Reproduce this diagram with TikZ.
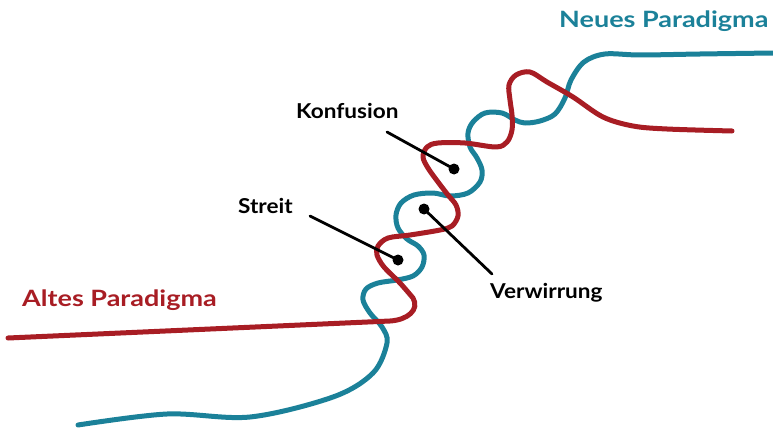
\documentclass[tikz,border=0pt]{standalone}
\usepackage{fontspec}
\setmainfont{Lato}
\definecolor{teal1}{HTML}{1B8199}
\definecolor{red1}{HTML}{A81D24}
\tikzset{
  strand/.style={line width=5pt, line cap=round, line join=round},
  pointer/.style={line width=2.8pt, line cap=round, black},
  dot/.style={circle, fill=black, inner sep=0pt, minimum size=11pt},
  lbl/.style={anchor=base west, inner sep=0pt, font=\bfseries\fontsize{20.5}{24}\selectfont},
  biglbl/.style={anchor=base west, inner sep=0pt, font=\bfseries\fontsize{22.5}{27}\selectfont}
}
\begin{document}
\begin{tikzpicture}[x=1pt,y=-1pt]
\useasboundingbox (0,0) rectangle (773,428);
% blue strand (new paradigm)
\draw[strand, teal1] plot[smooth, tension=0.55] coordinates {
 (78,425) (167,414) (250,417) (333,397) (373,373) (387,343) (382,327) (370,313)
 (363,300) (366,289) (378,283) (397,280) (413,276) (422,267) (424,255) (418,246)
 (407,239) (398,228) (396,215) (401,203) (414,195) (433,193) (450,196) (468,193)
 (480,182) (482,170) (477,158) (470,147) (468,133) (473,122) (485,113) (502,113)
 (515,120) (525,123) (540,121) (555,114) (565,98) (571,80) (584,62)
 (605,54) (640,55) (700,54) (773,53)};
% red strand (old paradigm)
\draw[strand, red1] (8,338) -- (390,321) .. controls (407,320) and (420,310) .. (413,298)
 -- plot[smooth, tension=0.55] coordinates {
 (413,298) (400,283) (384,267)
 (377,255) (378,246) (388,238) (410,235) (440,230) (452,226) (458,216) (456,205)
 (448,195) (438,182) (428,168) (423,157) (427,147) (438,143) (465,143) (496,147)
 (507,142) (512,130) (512,115) (510,100) (509,85) (516,75) (530,72) (547,82)
 (573,97) (603,117) (633,126) (667,129) (732,131)};
% labels
\node[biglbl, text=teal1] (neu) at (559,28) {\scalebox{1.2}[1]{Neues Paradigma}};
\node[biglbl, text=red1] (alt) at (22,306) {\scalebox{1.2}[1]{Altes Paradigma}};
\node[lbl] (konf) at (296,118) {\scalebox{1.1}[1]{Konfusion}};
\node[lbl] (streit) at (238,213) {\scalebox{1.1}[1]{Streit}};
\node[lbl] (verw) at (490,298) {\scalebox{1.1}[1]{Verwirrung}};
% dots and pointers
\node[dot] (kdot) at (454,169) {};
\node[dot] (sdot) at (398,260) {};
\node[dot] (vdot) at (424,209) {};
\coordinate (kstart) at (387,132);
\coordinate (sstart) at (310,216);
\coordinate (vend) at (492,274);
\draw[pointer] (kstart) -- (kdot.center);
\draw[pointer] (sstart) -- (sdot.center);
\draw[pointer] (vdot.center) -- (vend);
\end{tikzpicture}
\end{document}
